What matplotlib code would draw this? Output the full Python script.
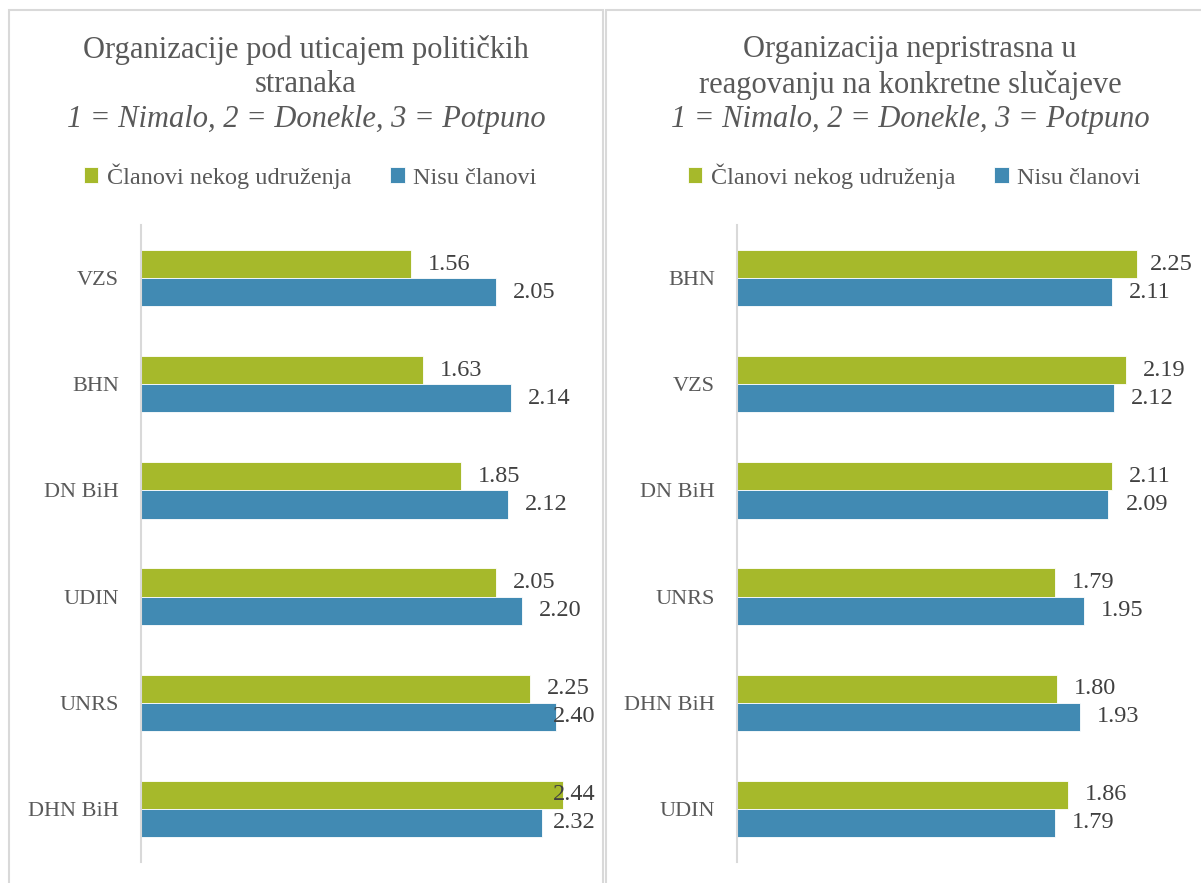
import matplotlib.pyplot as plt
import numpy as np
from matplotlib.patches import Rectangle

plt.rcParams["font.family"] = ["Liberation Serif", "DejaVu Serif"]

# data
left_cats = ["VZS", "BHN", "DN BiH", "UDIN", "UNRS", "DHN BiH"]
left_members = [1.56, 1.63, 1.85, 2.05, 2.25, 2.44]
left_non = [2.05, 2.14, 2.12, 2.20, 2.40, 2.32]

right_cats = ["BHN", "VZS", "DN BiH", "UNRS", "DHN BiH", "UDIN"]
right_members = [2.25, 2.19, 2.11, 1.79, 1.80, 1.86]
right_non = [2.11, 2.12, 2.09, 1.95, 1.93, 1.79]

left_title = ["Organizacije pod uticajem političkih", "stranaka"]
right_title = ["Organizacija nepristrasna u", "reagovanju na konkretne slučajeve"]
scale_note = "1 = Nimalo, 2 = Donekle, 3 = Potpuno"
series_names = ["Članovi nekog udruženja", "Nisu članovi"]

GREEN = "#A6B92B"
BLUE = "#418AB3"
GREY_TXT = "#595959"
VAL_TXT = "#404040"
LINE = "#D9D9D9"

W, H = 1201, 883
fig = plt.figure(figsize=(W / 100, H / 100), dpi=100)


def px(x, y):
    return x / W, 1 - y / H


# panel frames
for x0, x1 in [(9, 603), (606, 1215)]:
    fx0, fy0 = px(x0, 900)
    fx1, fy1 = px(x1, 10)
    fig.patches.append(Rectangle((fx0, fy0), fx1 - fx0, fy1 - fy0,
                                 transform=fig.transFigure, fill=False,
                                 edgecolor=LINE, linewidth=1.5))


def panel(cats, members, non, title, cx, ax_left, ppu, cap):
    xmax = 2.6
    l, b = px(ax_left, 862)
    _, t = px(0, 225)
    ax = fig.add_axes([l, b, xmax * ppu / W, t - b])
    y = np.arange(len(cats))
    h = 0.265
    b1 = ax.barh(y - h / 2, members, h, color=GREEN, edgecolor="white",
                 linewidth=0.6, label=series_names[0])
    b2 = ax.barh(y + h / 2, non, h, color=BLUE, edgecolor="white",
                 linewidth=0.6, label=series_names[1])
    pad = 17 / ppu
    for bars, vals in [(b1, members), (b2, non)]:
        for bar, v in zip(bars, vals):
            ax.text(min(v + pad, cap), bar.get_y() + bar.get_height() / 2,
                    f"{v:.2f}", ha="left", va="center", fontsize=17.5,
                    color=VAL_TXT)
    ax.set_xlim(0, xmax)
    ax.set_ylim(len(cats) - 0.5, -0.5)
    ax.set_yticks(y)
    ax.set_yticklabels(cats, fontsize=16, color=GREY_TXT)
    ax.tick_params(axis="y", length=0, pad=16)
    ax.set_xticks([])
    for s in ["top", "right", "bottom"]:
        ax.spines[s].set_visible(False)
    ax.spines["left"].set_color(LINE)
    ax.spines["left"].set_linewidth(1.5)
    ax.patch.set_alpha(0)

    for line, yy in zip(title, [50, 85]):
        fig.text(*px(cx, yy), line, ha="center", va="center",
                 fontsize=22, color=GREY_TXT)
    fig.text(*px(cx, 119), scale_note, ha="center", va="center",
             fontsize=22, style="italic", color=GREY_TXT)

    lx, ly = px(cx + 4, 176)
    ax.legend(loc="center", bbox_to_anchor=(lx, ly),
              bbox_transform=fig.transFigure, ncol=2, frameon=False,
              fontsize=17.5, handlelength=0.6, handleheight=0.6,
              handletextpad=0.35, columnspacing=1.6, labelcolor=GREY_TXT)
    return ax


panel(left_cats, left_members, left_non, left_title, 306, 141, 173.0,
      (553 - 141) / 173.0)
panel(right_cats, right_members, right_non, right_title, 910, 737, 177.7,
      (1150 - 737) / 177.7)

fig.savefig("out.png", dpi=100, facecolor="white")
